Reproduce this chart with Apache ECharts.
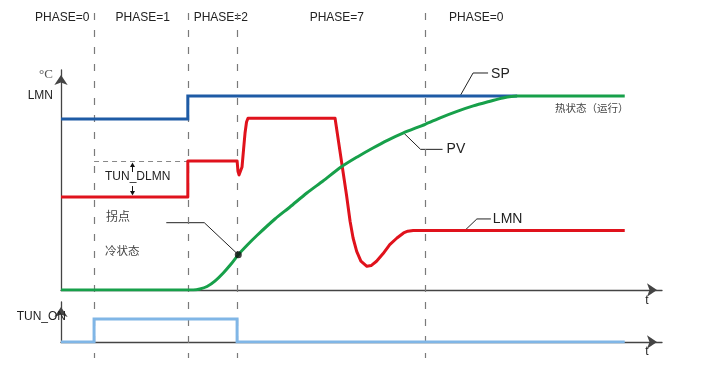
<!DOCTYPE html>
<html>
<head>
<meta charset="utf-8">
<script src="https://cdn.jsdelivr.net/npm/echarts/dist/echarts.min.js"></script>
<style>
html,body{margin:0;padding:0;background:#fff;}
#c{width:720px;height:370px;}
</style>
</head>
<body>
<div id="c"></div>
<script>
// ---- data (time units 0..100, value units of the upper chart) ----
const phaseBoundaries = [5.5, 21.1, 29.3, 60.6];
const phaseLabels = ['PHASE=0', 'PHASE=1', 'PHASE=2', 'PHASE=7', 'PHASE=0'];
const phaseLabelTimes = [0.2, 13.6, 26.6, 45.9, 69.1];

const spData = [[0, 88.1], [21.1, 88.1], [21.1, 100], [75.9, 100]];

const lmnData = [
  [0, 47.9], [21.1, 47.9], [21.1, 66.5], [29.3, 66.5],
  [29.45, 61.3], [29.62, 59.3], [29.83, 59.8], [30.12, 63.4], [30.37, 72.2],
  [30.62, 80.9], [30.87, 86.6], [31.11, 88.5],
  [45.6, 88.5], [47.5, 49.1], [48.1, 35.4], [48.6, 26.8], [49.2, 19.9],
  [49.9, 14.9], [50.9, 12.2], [51.6, 12.6], [52.5, 14.8], [53.6, 18.8],
  [54.7, 23.4], [55.9, 26.8], [57.0, 29.4], [57.7, 30.3], [58.6, 30.7],
  [93.8, 30.7]
];

const pvData = [
  [0, 0], [22.0, 0], [23.1, 0.5], [24.3, 1.8], [25.6, 4.6], [27.0, 8.8],
  [28.3, 13.4], [29.5, 18.2], [31.0, 23.2], [32.6, 28.1], [35.6, 36.6],
  [38.1, 42.8], [40.9, 50.0], [43.6, 56.2], [46.6, 63.4], [49.3, 68.6],
  [51.9, 73.2], [54.4, 77.3], [56.9, 80.9], [60.6, 85.4], [63.2, 88.9],
  [65.9, 92.1], [68.6, 94.9], [71.4, 97.3], [73.5, 99.0], [75.9, 100],
  [93.8, 100]
];

const tunOnData = [[0, 0], [5.5, 0], [5.5, 1], [29.3, 1], [29.3, 0], [93.8, 0]];

const inflectionPoint = [[29.5, 18.2]];
const tunDlmnLevels = [47.9, 66.5];
const yTickLabels = {100: 'LMN'};

// ---- chart ----
const chart = echarts.init(document.getElementById('c'), null, {renderer: 'canvas'});
const FONT = '"Liberation Sans", Arial, sans-serif';
const CJK = '"Noto Sans CJK SC", sans-serif';

function axisLine() {
  return {show: true, onZero: false, lineStyle: {color: '#444', width: 1.3},
    symbol: ['none', 'arrow'], symbolSize: [10, 10], symbolOffset: [0, -5]};
}
function plainAxis(extra) {
  return Object.assign({type: 'value', axisLine: axisLine(), axisTick: {show: false},
    splitLine: {show: false}, axisLabel: {show: false}}, extra);
}

chart.setOption({
  animation: false,
  backgroundColor: '#fff',
  grid: [
    {left: 61, top: 70, width: 601, height: 220},
    {left: 61, top: 302, width: 601, height: 40}
  ],
  xAxis: [
    plainAxis({gridIndex: 0, min: 0, max: 100}),
    plainAxis({gridIndex: 1, min: 0, max: 100})
  ],
  yAxis: [
    plainAxis({gridIndex: 0, min: 0, max: 113.4, interval: 100,
      axisLabel: {show: true, margin: 8, color: '#222', fontSize: 12, fontFamily: FONT,
        formatter: v => yTickLabels[v] || ''}}),
    plainAxis({gridIndex: 1, min: 0, max: 1.74})
  ],
  series: [
    {type: 'line', name: 'SP', xAxisIndex: 0, yAxisIndex: 0, data: spData, showSymbol: false,
      lineStyle: {color: '#1e5ba5', width: 3, join: 'miter'}, silent: true},
    {type: 'line', name: 'LMN', xAxisIndex: 0, yAxisIndex: 0, data: lmnData, showSymbol: false,
      lineStyle: {color: '#e0121c', width: 3, join: 'round'}, silent: true},
    {type: 'line', name: 'PV', xAxisIndex: 0, yAxisIndex: 0, data: pvData, showSymbol: false,
      smooth: 0.25, lineStyle: {color: '#17a04a', width: 3}, silent: true},
    {type: 'line', name: 'TUN_ON', xAxisIndex: 1, yAxisIndex: 1, data: tunOnData, showSymbol: false,
      lineStyle: {color: '#80b6e6', width: 3, join: 'miter'}, silent: true},
    {type: 'scatter', xAxisIndex: 0, yAxisIndex: 0, data: inflectionPoint, symbolSize: 7,
      itemStyle: {color: '#111'}, z: 5, silent: true}
  ]
});

// ---- annotations positioned through the chart's scales ----
function P(t, v, g) { return chart.convertToPixel({gridIndex: g || 0}, [t, v]); }
const g = [];
function text(str, x, y, opt) {
  opt = opt || {};
  g.push({type: 'text', x: x, y: y, z: 1,
    style: {text: str, fill: opt.color || '#222', font: opt.font || ('12px ' + FONT),
      align: opt.align || 'left', verticalAlign: 'middle'}});
}
function poly(pts, opt) {
  opt = opt || {};
  g.push({type: 'polyline', z: 1, shape: {points: pts},
    style: {stroke: opt.stroke || '#222', lineWidth: opt.w || 1, fill: null, lineDash: opt.dash || null}});
}
function tri(pts) {
  g.push({type: 'polygon', z: 1, shape: {points: pts}, style: {fill: '#111'}});
}

// phase labels
phaseLabels.forEach((s, i) => text(s, P(phaseLabelTimes[i], 0)[0], 18, {align: 'center'}));
// phase boundary dashed lines
phaseBoundaries.forEach(t => {
  const x = Math.round(P(t, 0)[0]) + 0.5;
  g.push({type: 'line', z: 2, shape: {x1: x, y1: 13, x2: x, y2: 358},
    style: {stroke: '#7a7a7a', lineWidth: 1.2, lineDash: [7, 10]}});
});

const o = P(0, 0);        // upper origin
const xe = P(100, 0);     // upper x end
const o2 = P(0, 0, 1);    // lower origin
const xe2 = P(100, 0, 1);

text('°C', o[0] - 15, 75, {color: '#555', font: '13px "Liberation Serif", serif', align: 'center'});
text('t', xe[0] - 15, xe[1] + 11, {align: 'center'});
text('t', xe2[0] - 15, xe2[1] + 10, {align: 'center'});
text('TUN_ON', o2[0] + 5, 317, {align: 'right'});

// SP leader
let a = P(66.4, 100);
poly([a, [a[0] + 13, a[1] - 23], [a[0] + 28, a[1] - 23]]);
text('SP', a[0] + 31, a[1] - 22, {font: '14px ' + FONT});
// PV leader
a = P(57.0, 81.0);
poly([a, [a[0] + 17, a[1] + 16.5], [a[0] + 39, a[1] + 16.5]]);
text('PV', a[0] + 43, a[1] + 16.5, {font: '14px ' + FONT});
// LMN leader
a = P(67.2, 30.7);
poly([a, [a[0] + 12, a[1] - 11.5], [a[0] + 26, a[1] - 11.5]]);
text('LMN', a[0] + 28, a[1] - 11.5, {font: '14px ' + FONT});
// inflection leader
a = P(inflectionPoint[0][0], inflectionPoint[0][1]);
poly([a, [a[0] - 34, a[1] - 32], [a[0] - 72, a[1] - 32]]);

text('拐点', 106, 216, {font: '12px ' + CJK, color: '#444'});
text('冷状态', 105, 251, {font: '11.5px ' + CJK, color: '#444'});
text('热状态（运行）', 555, 108, {font: '10.5px ' + CJK, color: '#444'});

// TUN_DLMN
const d1 = P(phaseBoundaries[0], tunDlmnLevels[1]);
const d2 = P(phaseBoundaries[1], tunDlmnLevels[1]);
poly([[d1[0], Math.round(d1[1]) + 0.5], [d2[0], Math.round(d2[1]) + 0.5]], {stroke: '#888', dash: [5, 4]});
const ax = Math.round(P(11.8, 0)[0]) + 0.5;
const yUp = P(0, tunDlmnLevels[1])[1];
const yLo = P(0, tunDlmnLevels[0])[1];
poly([[ax, yUp + 5], [ax, yUp + 11]], {stroke: '#111'});
tri([[ax, yUp + 1.5], [ax - 2.5, yUp + 6], [ax + 2.5, yUp + 6]]);
poly([[ax, yLo - 11], [ax, yLo - 5]], {stroke: '#111'});
tri([[ax, yLo - 1.5], [ax - 2.5, yLo - 6], [ax + 2.5, yLo - 6]]);
text('TUN_DLMN', 105, (yUp + yLo) / 2 - 2);

chart.setOption({graphic: {elements: g}});
</script>
</body>
</html>
